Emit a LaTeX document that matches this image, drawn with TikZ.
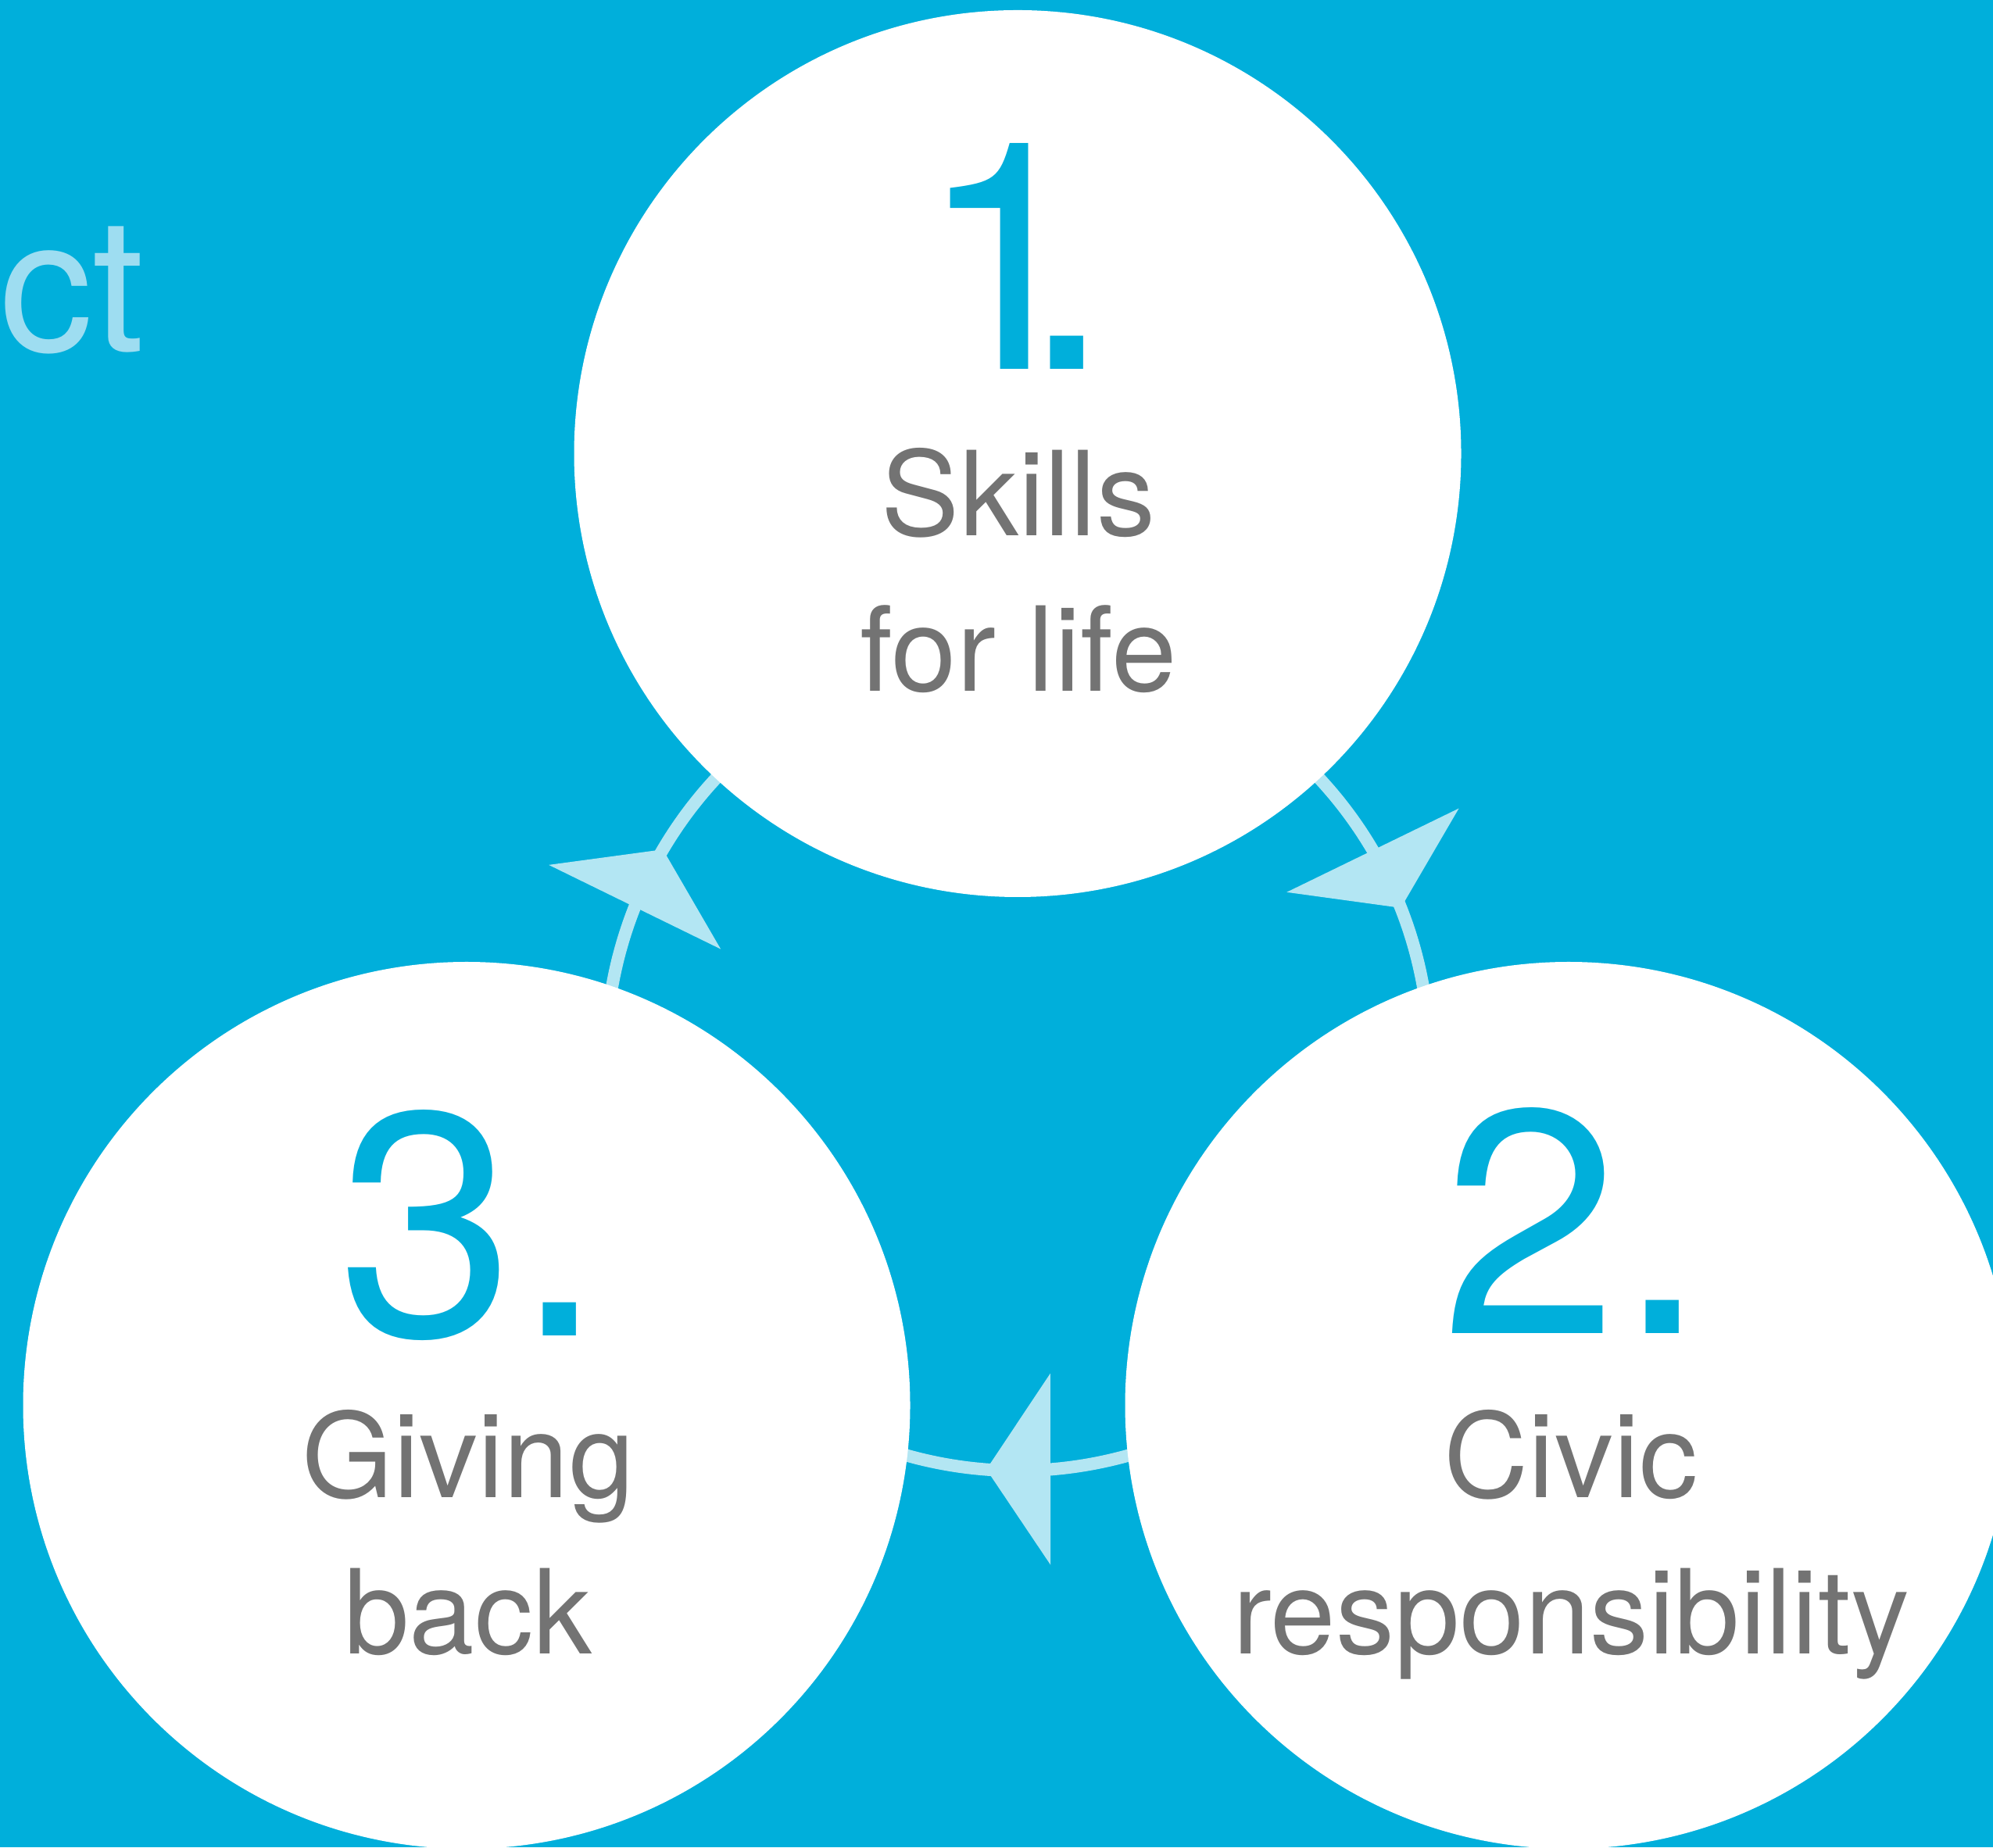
\documentclass[tikz,border=0pt]{standalone}
\usepackage{fontspec}
\setmainfont{TeX Gyre Heros}
\usepackage{xcolor}
\usetikzlibrary{calc}
\definecolor{skyback}{HTML}{00AFDB}
\definecolor{skypale}{HTML}{B3E6F3}
\definecolor{skyfaint}{HTML}{9EDDF1}
\definecolor{labelgrey}{HTML}{737373}
\tikzset{
  bubble/.style={circle, fill=white, minimum size=11.35cm, inner sep=0pt},
  stepnum/.style={font=\fontsize{116pt}{116pt}\selectfont, text=skyback, inner sep=0pt, anchor=base},
  steplbl/.style={font=\fontsize{42.7pt}{56.9pt}\selectfont, text=labelgrey, align=center, inner sep=0pt, anchor=base},
  ring/.style={line width=0.16cm, color=skypale},
  ringtip/.style={fill=skypale},
}
\newcommand{\ringR}{5.27}

\begin{document}
\begin{tikzpicture}[x=1cm, y=1cm]
  \useasboundingbox (0,0) rectangle (25.5,23.64);
  \clip (0,0) rectangle (25.5,23.64);
  \fill[skyback] (0,0) rectangle (25.5,23.64);
  \node[font=\fontsize{68pt}{68pt}\selectfont, text=skyfaint, inner sep=0pt, anchor=base east] (title) at (1.86,19.14) {ct};
  \coordinate (hub) at (13.02,10.09);
  \draw[ring] (hub) ++(60:\ringR) arc[start angle=60, end angle=-5, radius=\ringR];
  \draw[ring] (hub) ++(-20:\ringR) arc[start angle=-20, end angle=-160, radius=\ringR];
  \draw[ring] (hub) ++(185:\ringR) arc[start angle=185, end angle=120, radius=\ringR];
  \foreach \a in {21.5, 149.45, 265.65} {
    \path (hub) ++(\a:\ringR) coordinate (tip) (hub) ++(\a+8.92:\ringR) coordinate (back);
    \fill[ringtip] (tip) -- ($(back)!1.225cm!90:(tip)$) -- ($(back)!1.225cm!-90:(tip)$) -- cycle;
  }
  \node[bubble] (skills) at (13.02,17.835) {};
  \node[bubble] (civic) at (20.07,5.655) {};
  \node[bubble] (giving) at (5.97,5.655) {};
  \node[stepnum] (n1) at (12.98,18.91) {1\kern-0.23em.};
  \node[stepnum] (n2) at (20.14,6.58) {2.};
  \node[stepnum] (n3) at (6.03,6.55) {3.};
  \node[steplbl] (l1) at (13.03,14.79) {Skills\\for life};
  \node[steplbl] (l2) at (20.10,2.48) {Civic\\responsibility};
  \node[steplbl] (l3) at (5.99,2.48) {Giving\\back};
\end{tikzpicture}
\end{document}
